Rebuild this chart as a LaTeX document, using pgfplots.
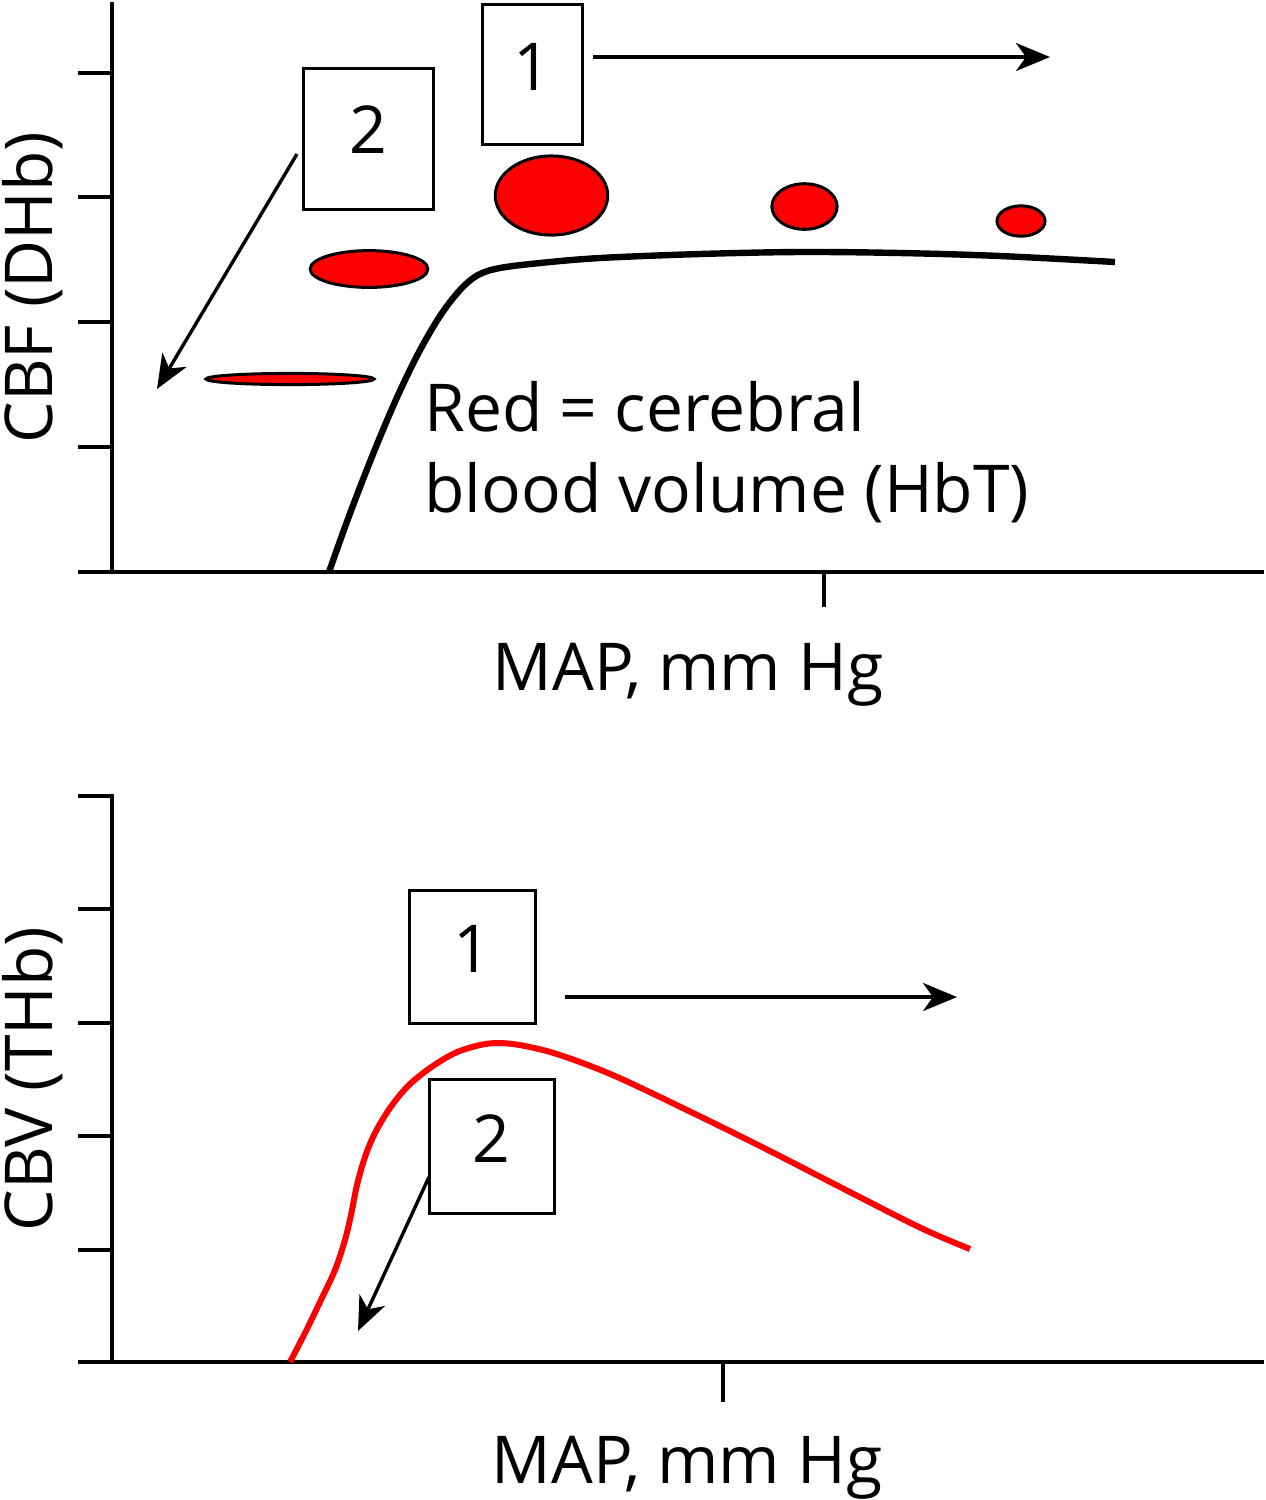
\documentclass[border=0pt]{standalone}
\usepackage{pgfplots}
\pgfplotsset{compat=1.18}
\usetikzlibrary{arrows.meta}
\usepackage{fontspec}
\setmainfont{Open Sans}
\begin{document}
\begin{tikzpicture}
\pgfplotsset{px/.style={scale only axis, width=633pt, xmin=0, xmax=1266, y dir=reverse, hide axis, clip=false}}
\tikzset{
  lab/.style={font=\fontsize{33}{40}\selectfont, inner sep=0pt},
  ax/.style={line width=1.6pt, line cap=rect},
  bx/.style={line width=1.5pt, fill=white},
  arr/.style={line width=1.7pt, -{Stealth[length=17pt,width=14pt,inset=5pt]}},
  ell/.style={only marks, mark=*}
}
% ---------------- top panel ----------------
\begin{axis}[px, height=370pt, ymin=0, ymax=740, at={(0pt,0pt)}, anchor=north west]
\path (0,0) rectangle (1266,740);
\draw[ax] (112,4) -- (112,572);
\draw[ax] (80,572) -- (1262,572);
\draw[ax] (80,73) -- (112,73);
\draw[ax] (80,197) -- (112,197);
\draw[ax] (80,322) -- (112,322);
\draw[ax] (80,447) -- (112,447);
\draw[ax] (824,572) -- (824,605);
% CBF curve
\addplot[black, line width=3.2pt, smooth, tension=0.55] coordinates {
 (329,572) (345,527) (362,482) (380,437) (399,393) (419,352) (440,316)
 (460,290) (478,275) (500,268) (540,263) (600,258) (700,254) (800,252)
 (900,253) (1000,256) (1115,262)};
% blood volume ellipses
\addplot[ell, mark size=9.2pt, mark options={xscale=3.2, fill=red, draw=black, line width=1.5pt}] coordinates {(369,269)};
\addplot[ell, mark size=2.8pt, mark options={xscale=15, fill=red, draw=black, line width=1.5pt}] coordinates {(290,379)};
\addplot[ell, mark size=19.8pt, mark options={xscale=1.42, fill=red, draw=black, line width=1.5pt}] coordinates {(551.5,195.5)};
\addplot[ell, mark size=11.4pt, mark options={xscale=1.43, fill=red, draw=black, line width=1.5pt}] coordinates {(804.5,206.5)};
\addplot[ell, mark size=7.6pt, mark options={xscale=1.58, fill=red, draw=black, line width=1.5pt}] coordinates {(1021,221)};
% boxes and arrows
\draw[bx] (482,4) rectangle (582,144);
\node[lab, anchor=base] at (532,90) {1};
\draw[bx] (303,68) rectangle (433,209);
\node[lab, anchor=base] at (368,153) {2};
\draw[arr] (593,57) -- (1050,57);
\draw[arr] (297,154) -- (157,389);
% texts
\node[lab, anchor=base west] at (424,431) {Red = cerebral};
\node[lab, anchor=base west] at (424,512) {blood volume (HbT)};
\node[lab, anchor=base] at (688,690) {MAP, mm Hg};
\node[lab, anchor=base, rotate=90] at (52,287.5) {CBF (DHb)};
\end{axis}
% ---------------- bottom panel ----------------
\begin{axis}[px, height=380pt, ymin=740, ymax=1500, at={(0pt,-370pt)}, anchor=north west]
\path (0,740) rectangle (1266,1500);
\draw[ax] (112,796) -- (112,1362);
\draw[ax] (80,1362) -- (1262,1362);
\draw[ax] (80,796) -- (112,796);
\draw[ax] (80,909) -- (112,909);
\draw[ax] (80,1023) -- (112,1023);
\draw[ax] (80,1136) -- (112,1136);
\draw[ax] (80,1250) -- (112,1250);
\draw[ax] (723,1362) -- (723,1400);
% CBV curve
\addplot[red, line width=3pt, smooth, tension=0.55] coordinates {
 (290,1362) (305,1333) (320,1302) (335,1270) (345,1240) (351,1215) (357,1185)
 (365,1157) (375,1133) (390,1108) (408,1086) (430,1068) (455,1053) (480,1045)
 (500,1043) (525,1046) (560,1055) (615,1076) (691,1112) (768,1150) (844,1189)
 (921,1228) (970,1249)};
\draw[bx] (409,890) rectangle (535,1023);
\node[lab, anchor=base] at (472,972) {1};
\draw[bx] (429,1079) rectangle (554,1213);
\node[lab, anchor=base] at (491,1162) {2};
\draw[arr] (565,997) -- (957,997);
\draw[arr] (429,1177) -- (358,1331);
\node[lab, anchor=base] at (687,1483) {MAP, mm Hg};
\node[lab, anchor=base, rotate=90] at (52,1079) {CBV (THb)};
\end{axis}
\end{tikzpicture}
\end{document}
